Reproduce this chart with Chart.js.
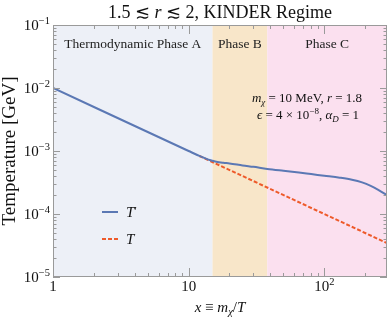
<!DOCTYPE html>
<html>
<head>
<meta charset="utf-8">
<script src="https://cdn.jsdelivr.net/npm/chart.js@4.4.1/dist/chart.umd.min.js"></script>
<style>
  html, body { margin: 0; background: #fff; }
</style>
</head>
<body>
<canvas id="Chart" width="390" height="320"></canvas>
<script>
  // T' (dark sector temperature)
  const xPrime = [1, 10, 12, 14, 15, 16, 18, 20, 25, 30, 38, 50, 65, 80, 100, 130, 160, 190, 220, 250, 290];
  const tPrime = [1.0e-2, 1.0e-3, 8.35e-4, 7.3e-4, 7.0e-4, 6.75e-4, 6.5e-4, 6.35e-4, 5.9e-4, 5.6e-4, 5.2e-4, 4.85e-4, 4.55e-4, 4.3e-4, 4.05e-4, 3.77e-4, 3.5e-4, 3.18e-4, 2.8e-4, 2.42e-4, 1.98e-4];

  // T (SM temperature)
  const xT = [12, 290];
  const tT = [8.33e-4, 3.45e-5];

  const phaseEdges = [1, 15, 38, 290];
  const phaseNames = ["Thermodynamic Phase A", "Phase B", "Phase C"];
  const phaseColors = ["#edf0f7", "#f8e6c9", "#fbe0ef"];

  const yTicks = [1e-5, 1e-4, 1e-3, 1e-2, 1e-1];
  const yTickExp = ["\u22125", "\u22124", "\u22123", "\u22122", "\u22121"];
  const xTicks = [1, 10, 100];
  const xTickBase = ["1", "10", "10"];
  const xTickExp = ["", "", "2"];

  const SERIF = "'Liberation Serif', 'DejaVu Serif', serif";
  const blue = "#5b78b4";
  const orange = "#ee5a2a";

  // draws a list of text pieces one after another
  function drawRich(ctx, segs, x, y, align) {
    let w = 0;
    segs.forEach(s => { ctx.font = s.f; w += ctx.measureText(s.t).width; });
    let cx = align === "center" ? x - w / 2 : align === "right" ? x - w : x;
    ctx.textAlign = "left";
    segs.forEach(s => {
      ctx.font = s.f;
      ctx.fillText(s.t, cx, y + (s.dy || 0));
      cx += ctx.measureText(s.t).width;
    });
  }

  const decor = {
    id: "decor",
    beforeDatasetsDraw(chart) {
      const { ctx, chartArea: a, scales: { x } } = chart;
      ctx.save();
      for (let i = 0; i < phaseNames.length; i++) {
        const l = x.getPixelForValue(phaseEdges[i]);
        const r = x.getPixelForValue(phaseEdges[i + 1]);
        ctx.fillStyle = phaseColors[i];
        ctx.fillRect(l, a.top, r - l, a.bottom - a.top);
        ctx.fillStyle = "#222";
        ctx.font = "13.5px " + SERIF;
        ctx.textAlign = "center";
        ctx.textBaseline = "middle";
        ctx.fillText(phaseNames[i], (l + r) / 2, a.top + 19);
      }
      ctx.restore();
    },
    afterDatasetsDraw(chart) {
      const { ctx, chartArea: a, scales: { x, y } } = chart;
      ctx.save();
      // frame
      ctx.strokeStyle = "#9a9a9a";
      ctx.lineWidth = 1;
      ctx.strokeRect(a.left + 0.5, a.top + 0.5, a.right - a.left - 1, a.bottom - a.top - 1);

      // ticks
      ctx.beginPath();
      for (let e = -5; e <= -1; e++) {
        for (let m = 1; m <= 9; m++) {
          const v = m * Math.pow(10, e);
          if (v > 0.1 + 1e-12) break;
          const py = Math.round(y.getPixelForValue(v)) + 0.5;
          const len = m === 1 ? 7 : 3.5;
          ctx.moveTo(a.left, py); ctx.lineTo(a.left + len, py);
          ctx.moveTo(a.right, py); ctx.lineTo(a.right - len, py);
        }
      }
      for (let e = 0; e <= 2; e++) {
        for (let m = 1; m <= 9; m++) {
          const v = m * Math.pow(10, e);
          if (v > 290) break;
          const px = Math.round(x.getPixelForValue(v)) + 0.5;
          const len = m === 1 ? 9 : 4;
          ctx.moveTo(px, a.bottom); ctx.lineTo(px, a.bottom - len);
          ctx.moveTo(px, a.top); ctx.lineTo(px, a.top + len);
        }
      }
      ctx.stroke();

      ctx.fillStyle = "#111";
      ctx.textBaseline = "alphabetic";
      // y tick labels
      yTicks.forEach((v, i) => {
        const py = y.getPixelForValue(v);
        drawRich(ctx, [
          { t: "10", f: "15px " + SERIF },
          { t: yTickExp[i], f: "10.5px " + SERIF, dy: -6 }
        ], 50, py + 5, "right");
      });
      // x tick labels
      xTicks.forEach((v, i) => {
        const px = x.getPixelForValue(v);
        const segs = [{ t: xTickBase[i], f: "15px " + SERIF }];
        if (xTickExp[i]) segs.push({ t: xTickExp[i], f: "10.5px " + SERIF, dy: -6 });
        drawRich(ctx, segs, px, a.bottom + 14, "center");
      });

      // title
      drawRich(ctx, [
        { t: "1.5 \u2272 ", f: "18px " + SERIF },
        { t: "r", f: "italic 18px " + SERIF },
        { t: " \u2272 2, KINDER Regime", f: "18px " + SERIF }
      ], (a.left + a.right) / 2, 18, "center");

      // x axis title
      drawRich(ctx, [
        { t: "x", f: "italic 15px " + SERIF },
        { t: " \u2261 ", f: "15px " + SERIF },
        { t: "m", f: "italic 15px " + SERIF },
        { t: "\u03c7", f: "italic 10.5px " + SERIF, dy: 3 },
        { t: "/", f: "15px " + SERIF },
        { t: "T", f: "italic 15px " + SERIF }
      ], (a.left + a.right) / 2, 312, "center");

      // y axis title
      ctx.save();
      ctx.translate(15, (a.top + a.bottom) / 2);
      ctx.rotate(-Math.PI / 2);
      drawRich(ctx, [{ t: "Temperature [GeV]", f: "19px " + SERIF }], 0, 0, "center");
      ctx.restore();

      // parameter annotation
      drawRich(ctx, [
        { t: "m", f: "italic 13px " + SERIF },
        { t: "\u03c7", f: "italic 9px " + SERIF, dy: 3 },
        { t: " = 10 MeV, ", f: "13px " + SERIF },
        { t: "r", f: "italic 13px " + SERIF },
        { t: " = 1.8", f: "13px " + SERIF }
      ], 307, 102, "center");
      drawRich(ctx, [
        { t: "\u03f5", f: "italic 13px " + SERIF },
        { t: " = 4 \u00d7 10", f: "13px " + SERIF },
        { t: "\u22128", f: "9px " + SERIF, dy: -5 },
        { t: ", ", f: "13px " + SERIF },
        { t: "\u03b1", f: "italic 13px " + SERIF },
        { t: "D", f: "italic 9px " + SERIF, dy: 3 },
        { t: " = 1", f: "13px " + SERIF }
      ], 308, 119, "center");

      // legend
      ctx.lineWidth = 2;
      ctx.strokeStyle = blue;
      ctx.setLineDash([]);
      ctx.beginPath(); ctx.moveTo(102, 212); ctx.lineTo(118, 212); ctx.stroke();
      ctx.strokeStyle = orange;
      ctx.setLineDash([4, 2]);
      ctx.beginPath(); ctx.moveTo(102, 239); ctx.lineTo(118, 239); ctx.stroke();
      ctx.setLineDash([]);
      drawRich(ctx, [
        { t: "T", f: "italic 15px " + SERIF },
        { t: "\u2032", f: "12px " + SERIF, dy: -2 }
      ], 126, 217, "left");
      drawRich(ctx, [{ t: "T", f: "italic 15px " + SERIF }], 126, 244, "left");
      ctx.restore();
    }
  };

  const ctx = document.getElementById("Chart").getContext("2d");
  const chart = new Chart(ctx, {
    type: "line",
    data: {
      datasets: [
        {
          label: "T'",
          data: xPrime.map((v, i) => ({ x: v, y: tPrime[i] })),
          borderColor: blue,
          borderWidth: 2,
          pointRadius: 0,
          cubicInterpolationMode: "monotone",
          fill: false,
        },
        {
          label: "T",
          data: xT.map((v, i) => ({ x: v, y: tT[i] })),
          borderColor: orange,
          borderWidth: 2,
          borderDash: [4, 2],
          pointRadius: 0,
          fill: false,
        },
      ],
    },
    options: {
      responsive: false,
      animation: false,
      devicePixelRatio: 1,
      layout: { padding: { top: 25, right: 3, left: 0, bottom: 0 } },
      plugins: {
        legend: { display: false },
        title: { display: false },
        tooltip: { enabled: false },
      },
      scales: {
        x: {
          type: "logarithmic",
          min: 1,
          max: 290,
          ticks: { display: false },
          grid: { display: false },
          border: { display: false },
          afterFit(s) { s.height = 43; },
        },
        y: {
          type: "logarithmic",
          min: 1e-5,
          max: 1e-1,
          ticks: { display: false },
          grid: { display: false },
          border: { display: false },
          afterFit(s) { s.width = 53; },
        },
      },
    },
    plugins: [decor],
  });
</script>
</body>
</html>
